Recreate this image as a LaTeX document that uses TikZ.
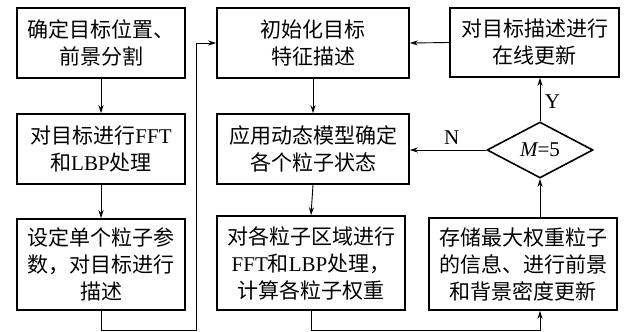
\documentclass[tikz,border=0pt]{standalone}
\usepackage{fontspec}
\setmainfont{Liberation Serif}
\newfontfamily\cjk{Noto Sans CJK SC}
\usetikzlibrary{shapes.geometric,arrows.meta,calc}
\begin{document}
\begin{tikzpicture}[x=1pt,y=-1pt,
  box/.style={draw,line width=1.6pt,inner sep=0pt,align=center,
    font=\fontsize{21}{27}\selectfont\cjk},
  conn/.style={line width=0.9pt,-{Stealth[length=8pt,width=5pt]}},
  lbl/.style={font=\fontsize{21}{24}\selectfont\rmfamily}]
\useasboundingbox (0,0) rectangle (624,332);
% column 1
\node[box,minimum width=168pt,minimum height=70pt] (b11) at (101,43) {确定目标位置、\\前景分割};
\node[box,minimum width=168pt,minimum height=70pt] (b12) at (101,149) {对目标进行{\rmfamily FFT}\\和{\rmfamily LBP}处理};
\node[box,minimum width=168pt,minimum height=91pt] (b13) at (101,264.5) {设定单个粒子参\\数，对目标进行\\描述};
% column 2
\node[box,minimum width=192pt,minimum height=70pt] (b21) at (313,43) {初始化目标\\特征描述};
\node[box,minimum width=192pt,minimum height=70pt] (b22) at (313,149) {应用动态模型确定\\各个粒子状态};
\node[box,minimum width=188pt,minimum height=94pt] (b23) at (311,263) {对各粒子区域进行\\{\rmfamily FFT}和{\rmfamily LBP}处理，\\计算各粒子权重};
% column 3
\node[box,minimum width=169pt,minimum height=69pt] (b31) at (534.5,42.5) {对目标描述进行\\在线更新};
\node[draw,diamond,line width=1.6pt,inner sep=0pt,minimum width=106pt,minimum height=56pt,
  font=\fontsize{21}{24}\selectfont\rmfamily] (d) at (540,150) {{\itshape M}=5};
\node[box,minimum width=188pt,minimum height=92pt] (b33) at (523,264) {存储最大权重粒子\\的信息、进行前景\\和背景密度更新};
% connectors
\draw[conn] (b11.south) -- (b12.north);
\draw[conn] (b12.south) -- (b13.north);
\coordinate (lx) at (196,330);
\draw[conn] (b13.south) |- (lx) |- (b21.west);
\draw[conn] (b21.south) -- (b22.north);
\draw[conn] (b22.south) -- (b23.north);
\coordinate (rx) at (540,330);
\draw[conn] (b23.south) |- (rx) -- (rx |- b33.south);
\draw[conn] (d.south |- b33.north) -- (d.south);
\draw[conn] (d.north) -- (d.north |- b31.south) node[lbl,pos=0.45,right=1pt] {Y};
\draw[conn] (d.west) -- (d.west -| b22.east) node[lbl,pos=0.45,above=2pt] {N};
\draw[conn] (b31.west) -- (b21.east);
\end{tikzpicture}
\end{document}
